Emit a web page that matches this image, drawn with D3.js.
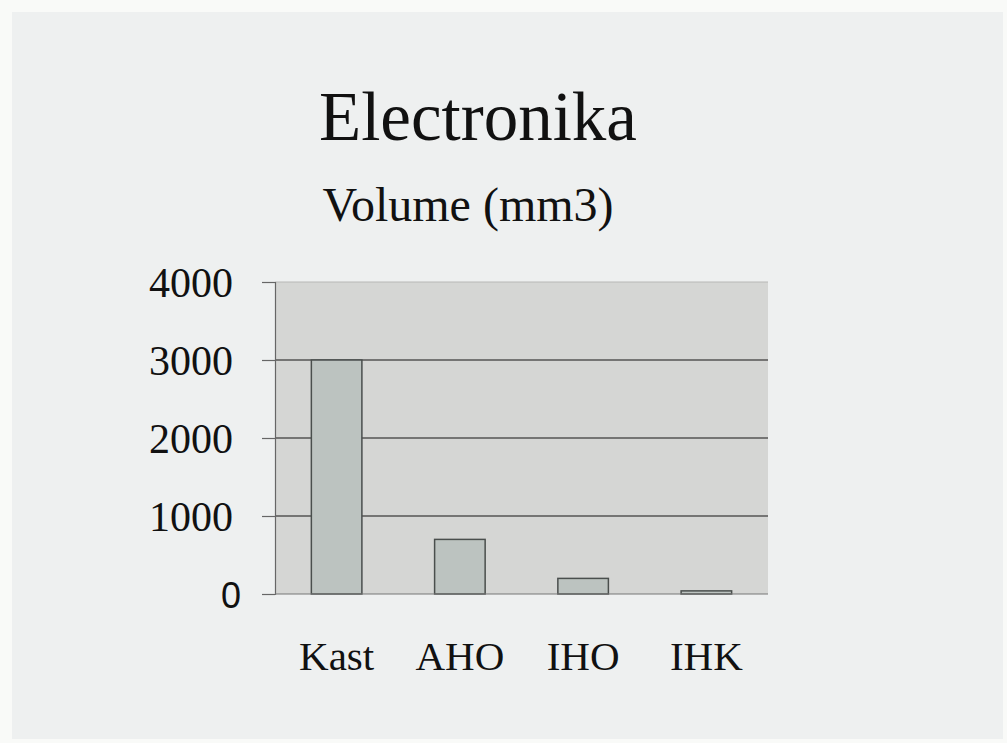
<!DOCTYPE html>
<html>
<head>
<meta charset="utf-8">
<script src="https://cdn.jsdelivr.net/npm/d3@7"></script>
<style>
  html, body { margin: 0; padding: 0; background: #f9faf8; }
  svg { display: block; }
  .serif { font-family: "Liberation Serif", "Times New Roman", "DejaVu Serif", serif; }
  .sans { font-family: "Liberation Sans", Arial, sans-serif; }
</style>
</head>
<body>
<svg id="chart" width="1007" height="743"></svg>
<script>
// Volume per component type (mm3)
const categories = ["Kast", "AHO", "IHO", "IHK"];
const volumes = [3000, 700, 200, 40];
const yTicks = [0, 1000, 2000, 3000, 4000];
const chartTitle = "Electronika";
const chartSubtitle = "Volume (mm3)";

const W = 1007, H = 743;
const margin = { left: 275, right: 239, top: 282, bottom: 149 };
const plotW = W - margin.left - margin.right;
const plotH = H - margin.top - margin.bottom;

const svg = d3.select("#chart");

// panel background
svg.append("rect")
  .attr("x", 12).attr("y", 12)
  .attr("width", W - 16).attr("height", H - 16)
  .attr("fill", "#eef0f0");

svg.append("text")
  .attr("class", "serif")
  .attr("x", 478).attr("y", 140)
  .attr("text-anchor", "middle")
  .style("font-size", "69px")
  .attr("fill", "#111")
  .text(chartTitle);

svg.append("text")
  .attr("class", "serif")
  .attr("x", 468).attr("y", 221)
  .attr("text-anchor", "middle")
  .style("font-size", "48px")
  .attr("fill", "#111")
  .text(chartSubtitle);

const g = svg.append("g").attr("transform", `translate(${margin.left},${margin.top})`);

const x = d3.scaleBand().domain(categories).range([0, plotW])
  .paddingInner(0.59).paddingOuter(0.295);
const y = d3.scaleLinear().domain([0, 4000]).range([plotH, 0]);

// plot area
g.append("rect")
  .attr("x", 0).attr("y", 0)
  .attr("width", plotW).attr("height", plotH)
  .attr("fill", "#d5d6d4");

// gridlines
g.selectAll("line.grid").data(yTicks.filter(t => t > 0))
  .join("line")
  .attr("class", "grid")
  .attr("x1", 0).attr("x2", plotW)
  .attr("y1", d => y(d)).attr("y2", d => y(d))
  .attr("stroke", d => d === 4000 ? "#b8b8b6" : "#555")
  .attr("stroke-width", d => d === 4000 ? 1 : 1.5);

// bars
g.selectAll("rect.bar").data(categories)
  .join("rect")
  .attr("class", "bar")
  .attr("x", d => x(d))
  .attr("y", (d, i) => y(volumes[i]))
  .attr("width", x.bandwidth())
  .attr("height", (d, i) => plotH - y(volumes[i]))
  .attr("fill", "#bcc3c0")
  .attr("stroke", "#4a4f4d")
  .attr("stroke-width", 1.5);

// y axis
const yAxis = d3.axisLeft(y).tickValues(yTicks).tickSize(13).tickFormat(d3.format("d"));
const ya = g.append("g").call(yAxis);
ya.attr("font-family", null).attr("font-size", null);
ya.select(".domain").attr("stroke", "#666").attr("stroke-width", 1.2);
ya.selectAll(".tick line").attr("stroke", "#666").attr("stroke-width", 1.2);
ya.selectAll(".tick text")
  .attr("class", d => d === 0 ? "sans" : "serif")
  .attr("x", d => d === 0 ? -34 : -42)
  .attr("dy", d => d === 0 ? "0.38em" : "0.34em")
  .attr("fill", "#111")
  .style("font-size", d => d === 0 ? "36px" : "42px");

// baseline
g.append("line")
  .attr("x1", 0).attr("x2", plotW)
  .attr("y1", plotH).attr("y2", plotH)
  .attr("stroke", "#777").attr("stroke-width", 1.2);

// x axis labels
const xa = g.append("g").attr("transform", `translate(0,${plotH})`)
  .call(d3.axisBottom(x).tickSize(0).tickPadding(0));
xa.attr("font-family", null).attr("font-size", null);
xa.select(".domain").remove();
xa.selectAll(".tick text")
  .attr("class", "serif")
  .attr("y", 76)
  .attr("dy", 0)
  .attr("fill", "#111")
  .style("font-size", "41px");
</script>
</body>
</html>
